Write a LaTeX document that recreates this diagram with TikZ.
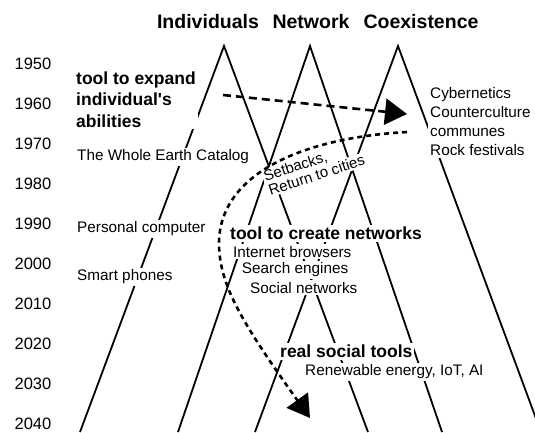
\documentclass[tikz,border=0pt]{standalone}
\usepackage{fontspec}
\setmainfont{Liberation Sans}
\usetikzlibrary{arrows.meta}

\begin{document}
\begin{tikzpicture}[x=1pt,y=-1pt,
    leg/.style={line width=1.8pt},
    flow/.style={line width=2.6pt,-{Triangle[length=22pt,width=26pt]}},
    head/.style={font=\fontsize{19.5}{22}\selectfont\bfseries},
    year/.style={font=\fontsize{16.5}{20}\selectfont},
    tool/.style={font=\fontsize{17.5}{21.5}\selectfont\bfseries,fill=white,inner sep=2pt,align=left,anchor=west},
    item/.style={font=\fontsize{15.3}{19}\selectfont,fill=white,inner sep=2pt,align=left,anchor=west}]
\useasboundingbox (0,0) rectangle (535,432);
\begin{scope}
    \clip (0,0) rectangle (535,432);
    \foreach \name/\px/\half in {ind/224/144, net/310/132, coex/398/143} {
        \coordinate (\name-top) at (\px,46);
        \draw[leg] ({\px-\half},432) -- (\name-top) -- ({\px+\half},432);
    }
\end{scope}

\node[head] (individuals) at (208,22) {Individuals};
\node[head] (network) at (311,22) {Network};
\node[head] (coexistence) at (421,22) {Coexistence};

\foreach \yr [count=\i from 0] in {1950,1960,...,2040}
    \node[year] (y\yr) at (33,{64+40*\i}) {\yr};

\node[tool] (expand) at (74,99.5) {tool to expand\\individual\textquotesingle s\\abilities};
\node[item] (catalog) at (75,157) {The Whole Earth Catalog};
\node[item] (pc) at (75,229) {Personal computer};
\node[item] (phones) at (75,277) {Smart phones};
\node[item] (sixties) at (428,121.5) {Cybernetics\\Counterculture\\communes\\Rock festivals};
\node[item,inner sep=1.5pt,rotate=18,anchor=base west,font=\fontsize{15}{15}\selectfont]
    (setbacks) at (264,182) {Setbacks,};
\node[item,inner sep=1.5pt,rotate=18,anchor=base west,font=\fontsize{15}{15}\selectfont]
    (cities) at (269,196) {Return to cities};
\node[tool] (create) at (228,233.3) {tool to create networks};
\node[item] (browsers) at (231,251.7) {Internet browsers};
\node[item] (search) at (239.7,270) {Search engines};
\node[item] (social) at (248,287.7) {Social networks};
\node[tool] (real) at (278,351.7) {real social tools};
\node[item] (energy) at (303,371.7) {Renewable energy, IoT, AI};

\coordinate (expand-from) at (223,95);
\coordinate (expand-to) at (407,114);
\coordinate (back-from) at (407,132);
\coordinate (back-mid) at (219,245);
\coordinate (back-to) at (310,418);
\draw[flow,dash pattern=on 8pt off 5pt] (expand-from) -- (expand-to);
\draw[flow,dash pattern=on 5pt off 4pt] (back-from) .. controls (300,138) and (218,175) .. (back-mid)
    .. controls (220,285) and (240,320) .. (back-to);
\end{tikzpicture}
\end{document}
